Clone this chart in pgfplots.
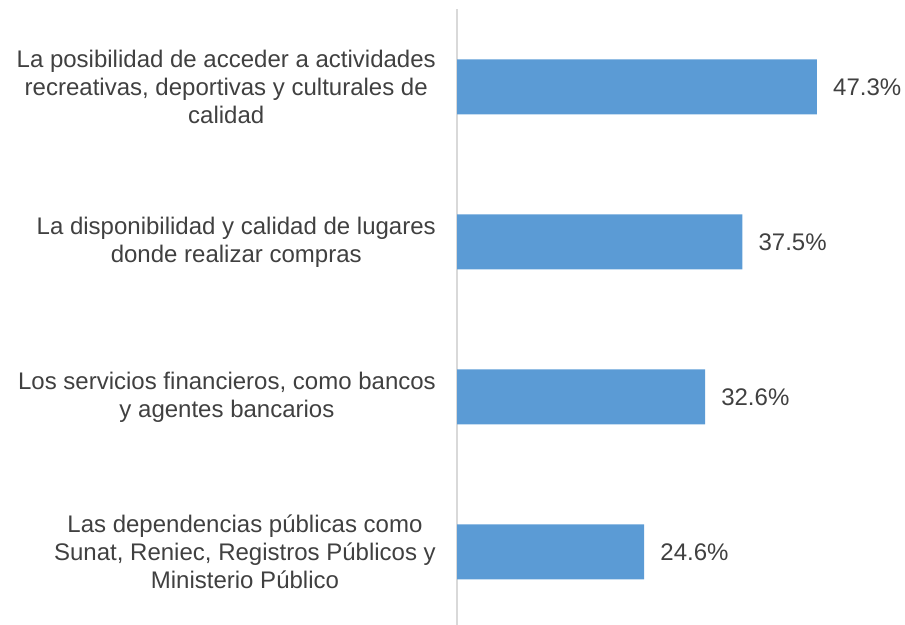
\documentclass[border=0pt]{standalone}
\usepackage{pgfplots}
\pgfplotsset{compat=1.18}
\usepackage{fontspec}
\setmainfont{Liberation Sans}
\definecolor{barblue}{HTML}{5B9BD5}
\definecolor{txt}{HTML}{404040}
\definecolor{axgray}{HTML}{D9D9D9}
\begin{document}
\begin{tikzpicture}
\path[use as bounding box] (0,0) rectangle (905bp,625bp);
\begin{axis}[
  at={(457bp,-4.5bp)}, anchor=south west,
  scale only axis, width=440bp, height=620bp,
  xbar, bar width=55bp,
  xmin=0, xmax=57.82,
  ymin=-0.5, ymax=3.5, enlarge y limits=false,
  axis x line=none, axis y line*=left,
  y axis line style={axgray, line width=1.5bp},
  ytick={0,1,2,3}, ytick style={draw=none}, major tick length=0pt,
  yticklabels={
    {Las dependencias públicas como\\Sunat, Reniec, Registros Públicos y\\Ministerio Público},
    {Los servicios financieros, como bancos\\y agentes bancarios},
    {La disponibilidad y calidad de lugares\\donde realizar compras},
    {La posibilidad de acceder a actividades\\recreativas, deportivas y culturales de\\calidad}},
  yticklabel style={font=\fontsize{24.1}{28.3}\selectfont, text=txt, align=center, inner sep=0pt, xshift=-21bp},
  point meta=x,
  nodes near coords={\pgfmathprintnumber[fixed,fixed zerofill,precision=1,assume math mode=true]{\pgfplotspointmeta}\%},
  nodes near coords style={font=\fontsize{24.1}{28.3}\selectfont, text=txt, anchor=west, inner sep=0pt, xshift=16bp},
  clip=false,
]
\addplot[fill=barblue, draw=none] coordinates {(24.6,0) (32.6,1) (37.5,2) (47.3,3)};
\end{axis}
\end{tikzpicture}
\end{document}
